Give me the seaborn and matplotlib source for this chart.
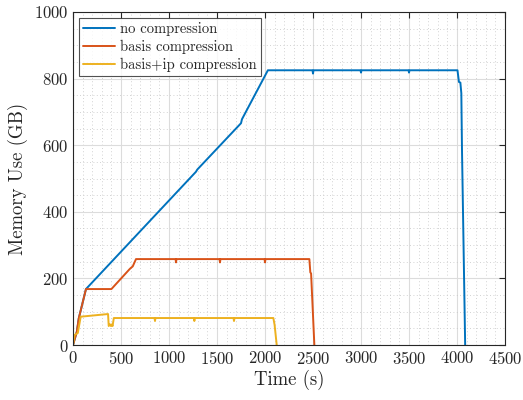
import matplotlib
matplotlib.use("Agg")
import matplotlib.pyplot as plt
from matplotlib.ticker import MultipleLocator
import seaborn as sns
import pandas as pd

t_none = [0, 40, 60, 135, 1280, 1295, 1750, 1760, 2030, 2495, 2500, 2505,
          2995, 3000, 3005, 3495, 3500, 3505, 4005, 4020, 4035, 4045, 4052, 4085]
v_none = [0, 40, 80, 168, 520, 527, 666, 678, 825, 825, 815, 825,
          825, 818, 825, 825, 818, 825, 825, 790, 788, 756, 585, 0]

t_basis = [0, 40, 60, 135, 400, 590, 605, 622, 656, 1068, 1073, 1078,
           1526, 1531, 1536, 1995, 2000, 2005, 2462, 2472, 2480, 2514]
v_basis = [0, 40, 80, 168, 168, 228, 232, 236, 258, 258, 248, 258,
           258, 248, 258, 258, 248, 258, 258, 218, 215, 0]

t_ip = [0, 15, 50, 80, 365, 372, 385, 395, 405, 412, 425, 849, 854, 859,
        1259, 1264, 1269, 1672, 1677, 1682, 2087, 2100, 2122]
v_ip = [0, 30, 36, 85, 93, 57, 62, 57, 62, 57, 81, 81, 72, 81,
        81, 72, 81, 81, 72, 81, 81, 60, 0]

labels = ["no compression", "basis compression", "basis+ip compression"]
colors = ["#0072BD", "#D95319", "#EDB120"]

df = pd.concat([
    pd.DataFrame({"t": t_none, "mem": v_none, "run": labels[0]}),
    pd.DataFrame({"t": t_basis, "mem": v_basis, "run": labels[1]}),
    pd.DataFrame({"t": t_ip, "mem": v_ip, "run": labels[2]}),
], ignore_index=True)

sns.set_style("white")
plt.rcParams["font.family"] = "serif"
plt.rcParams["font.serif"] = ["cmr10", "DejaVu Serif"]
plt.rcParams["axes.formatter.use_mathtext"] = True
plt.rcParams["mathtext.fontset"] = "cm"

fig = plt.figure(figsize=(5.23, 4.0), dpi=100)
ax = fig.add_axes([0.1396, 0.1375, 0.826, 0.8325])

sns.lineplot(data=df, x="t", y="mem", hue="run", palette=colors,
             sort=False, estimator=None, linewidth=1.4, ax=ax)

ax.set_xlim(0, 4500)
ax.set_ylim(0, 1000)
ax.xaxis.set_major_locator(MultipleLocator(500))
ax.xaxis.set_minor_locator(MultipleLocator(100))
ax.yaxis.set_major_locator(MultipleLocator(200))
ax.yaxis.set_minor_locator(MultipleLocator(50))
ax.grid(which="major", color="#dcdcdc", linewidth=0.8)
ax.grid(which="minor", color="#c4c4c4", linestyle=(0, (1, 3)), linewidth=0.6)
ax.set_axisbelow(True)
for s in ax.spines.values():
    s.set_color("#262626")
    s.set_linewidth(0.8)
ax.tick_params(which="both", direction="in", top=True, right=True, colors="#262626", labelsize=12)
ax.tick_params(which="major", length=4)
ax.tick_params(which="minor", length=0)

ax.set_xlabel("Time (s)", fontsize=13.5, labelpad=2)
ax.set_ylabel("Memory Use (GB)", fontsize=13.5, labelpad=4)

leg = ax.legend(loc="upper left", fontsize=10.5, frameon=True, fancybox=False,
                handlelength=2.2, handletextpad=0.3, borderpad=0.3, labelspacing=0.25,
                borderaxespad=0.4, edgecolor="#262626")
leg.get_frame().set_linewidth(0.8)

fig.savefig("out.png", dpi=100)
